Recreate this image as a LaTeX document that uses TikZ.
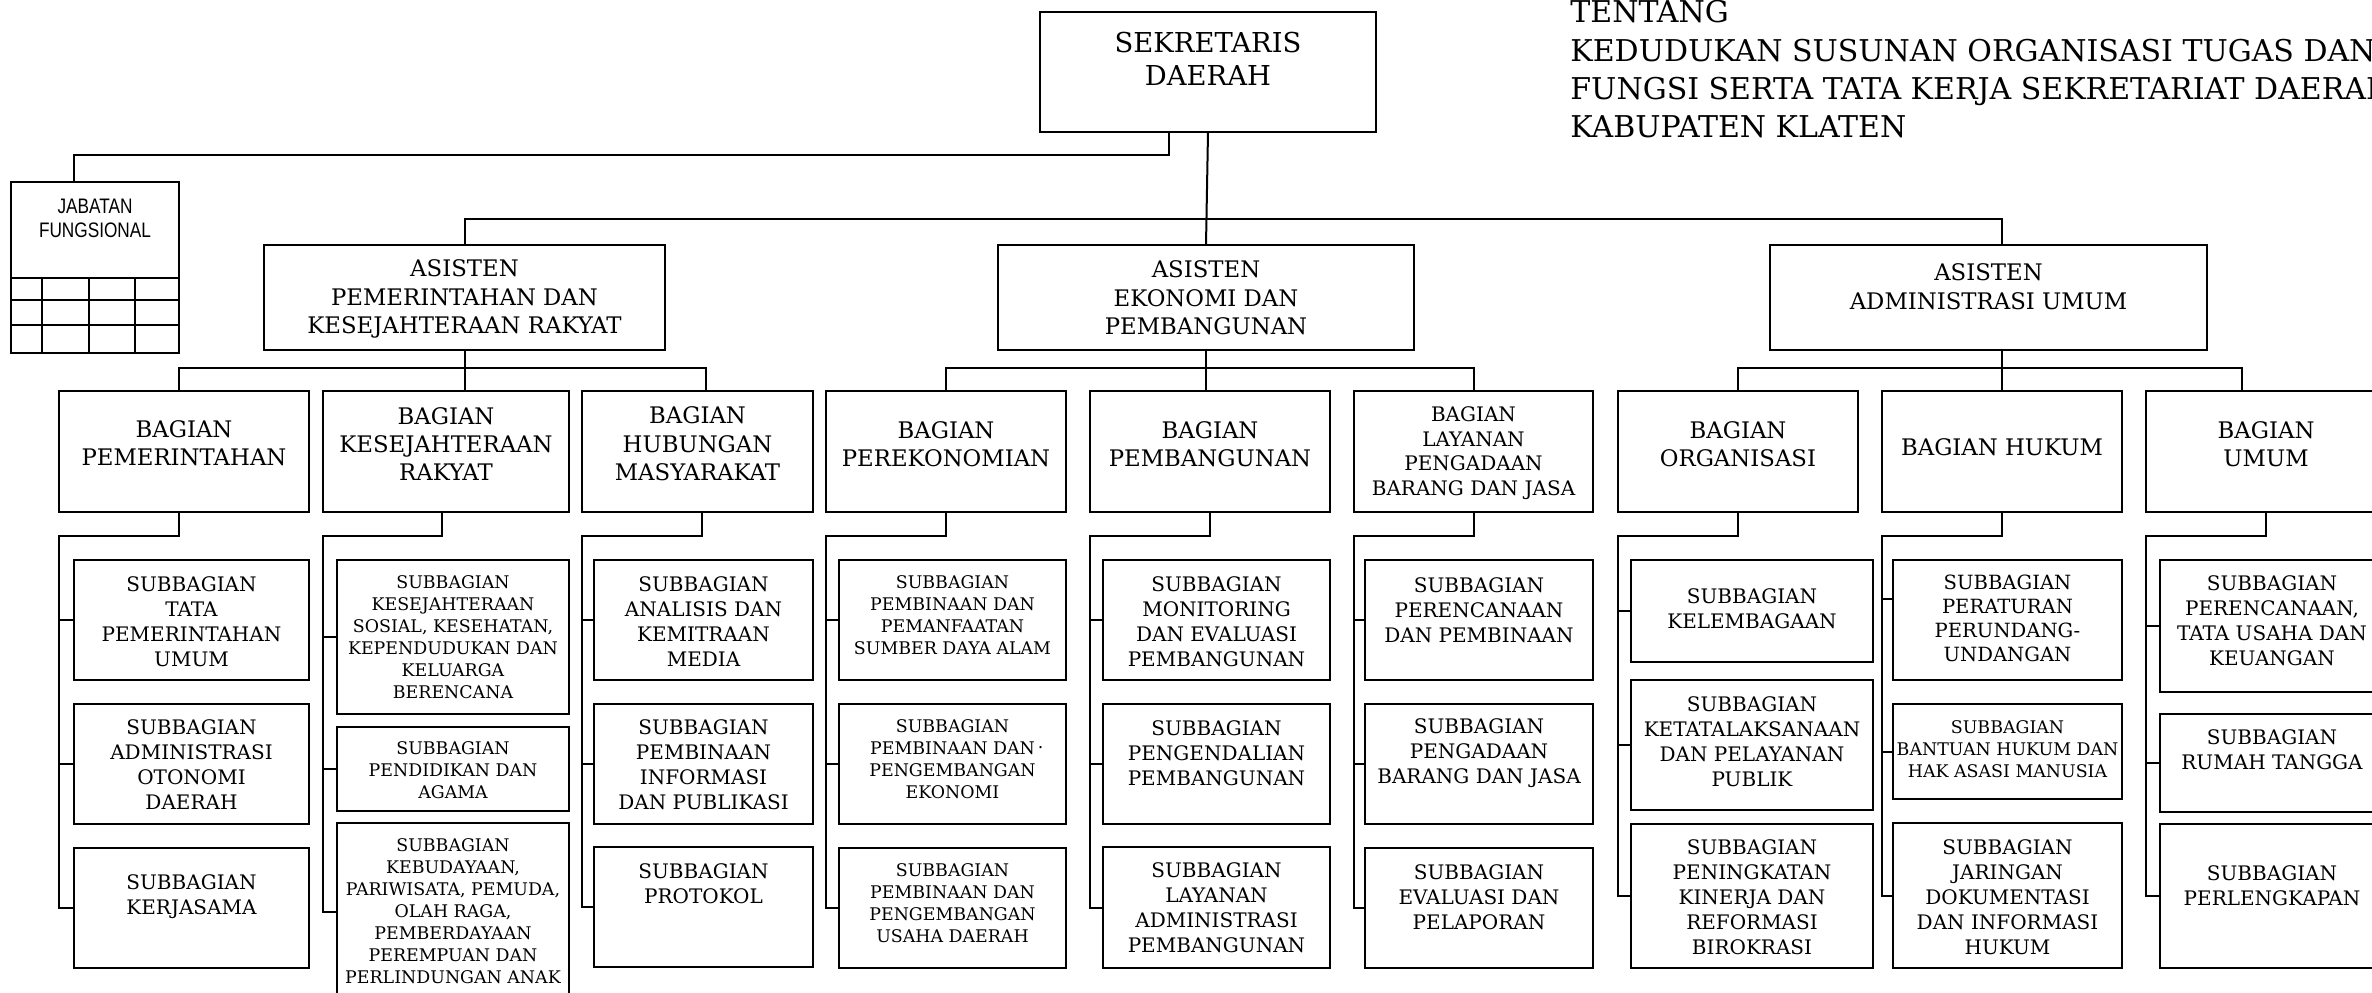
\documentclass[tikz,border=0pt]{standalone}
\usepackage{fontspec}
\setmainfont{DejaVu Serif}
\newfontfamily\jabfont[FakeStretch=0.82]{Liberation Sans}
\tikzset{
 bxthin/.style={draw, line width=1pt, inner sep=0pt, outer sep=0pt},
 bxthick/.style={draw, line width=1.4pt, inner sep=0pt, outer sep=0pt},
 conn/.style={line width=1pt},
 ftitle/.style={font=\fontsize{15}{19.2}\selectfont, align=left, inner sep=0pt},
 fsek/.style={font=\fontsize{13.7}{16.5}\selectfont, align=center, inner sep=0pt},
 fbag/.style={font=\fontsize{11.4}{14.2}\selectfont, align=center, inner sep=0pt},
 fsub/.style={font=\fontsize{10}{12.5}\selectfont, align=center, inner sep=0pt},
 fsubb/.style={font=\fontsize{9.8}{12}\selectfont, align=center, inner sep=0pt},
 fsmall/.style={font=\fontsize{8.7}{11}\selectfont, align=center, inner sep=0pt},
 flay/.style={font=\fontsize{10}{12.3}\selectfont, align=center, inner sep=0pt},
 fjab/.style={font=\jabfont\fontsize{10.5}{12}\selectfont, align=center, inner sep=0pt},
}
\newcommand\orgbox[9]{%
 \node[#6, minimum width={(#4-#2)*0.5pt}, minimum height={(#5-#3)*0.5pt}] (#1) at ({(#2+#4)/2},{(#3+#5)/2}) {};
 \node[#7] (#1t) at ({(#2+#4)/2},#8) {#9};
}
\begin{document}
\begin{tikzpicture}[x=0.5pt, y=-0.5pt]
\useasboundingbox (0,0) rectangle (2372,992);
\clip (0,0) rectangle (2372,992);

% title
\node[ftitle, anchor=north west] (title) at (1570,0) {TENTANG\\KEDUDUKAN SUSUNAN ORGANISASI TUGAS DAN\\FUNGSI SERTA TATA KERJA SEKRETARIAT DAERAH\\KABUPATEN KLATEN};

% top levels
\orgbox{sekda}{1040}{12}{1376}{132}{bxthin}{fsek}{58.5}{SEKRETARIS\\DAERAH}
\node[bxthin, minimum width={168*0.5pt}, minimum height={171*0.5pt}] (jab) at (95,267.5) {};
\node[fjab] (jabt) at (95,218) {JABATAN\\FUNGSIONAL};
\draw[line width=1pt] (11,278) -- (179,278) (11,300) -- (179,300) (11,325) -- (179,325)
  (42,278) -- (42,353) (89,278) -- (89,353) (135,278) -- (135,353);

\orgbox{aspem}{264}{245}{665}{350}{bxthin}{fbag}{299}{ASISTEN\\PEMERINTAHAN DAN\\KESEJAHTERAAN RAKYAT}
\orgbox{aseko}{998}{245}{1414}{350}{bxthin}{fbag}{298}{ASISTEN\\EKONOMI DAN\\PEMBANGUNAN}
\orgbox{asadm}{1770}{245}{2207}{350}{bxthin}{fbag}{286.5}{ASISTEN\\ADMINISTRASI UMUM}

% bagian
\orgbox{bpem}{59}{391}{309}{512}{bxthick}{fbag}{443}{BAGIAN\\PEMERINTAHAN}
\orgbox{bkes}{323}{391}{569}{512}{bxthick}{fbag}{444}{BAGIAN\\KESEJAHTERAAN\\RAKYAT}
\orgbox{bhum}{582}{391}{813}{512}{bxthick}{fbag}{444}{BAGIAN\\HUBUNGAN\\MASYARAKAT}
\orgbox{bper}{826}{391}{1066}{512}{bxthick}{fbag}{444}{BAGIAN\\PEREKONOMIAN}
\orgbox{bpbg}{1090}{391}{1330}{512}{bxthick}{fbag}{444}{BAGIAN\\PEMBANGUNAN}
\orgbox{blay}{1354}{391}{1593}{512}{bxthick}{flay}{453}{BAGIAN\\LAYANAN\\PENGADAAN\\BARANG DAN JASA}
\orgbox{borg}{1618}{391}{1858}{512}{bxthick}{fbag}{444}{BAGIAN\\ORGANISASI}
\orgbox{bhuk}{1882}{391}{2122}{512}{bxthick}{fbag}{447}{BAGIAN HUKUM}
\orgbox{bumum}{2146}{391}{2386}{512}{bxthick}{fbag}{444}{BAGIAN\\UMUM}

% subbagian
\orgbox{s11}{74}{560}{309}{680}{bxthick}{fsub}{622}{SUBBAGIAN\\TATA\\PEMERINTAHAN\\UMUM}
\orgbox{s12}{74}{704}{309}{824}{bxthick}{fsub}{765}{SUBBAGIAN\\ADMINISTRASI\\OTONOMI\\DAERAH}
\orgbox{s13}{74}{848}{309}{968}{bxthick}{fsub}{897}{SUBBAGIAN\\KERJASAMA}

\orgbox{s21}{337}{560}{569}{714}{bxthick}{fsmall}{637}{SUBBAGIAN\\KESEJAHTERAAN\\SOSIAL, KESEHATAN,\\KEPENDUDUKAN DAN\\KELUARGA\\BERENCANA}
\orgbox{s22}{337}{727}{569}{811}{bxthick}{fsmall}{770}{SUBBAGIAN\\PENDIDIKAN DAN\\AGAMA}
\orgbox{s23}{337}{823}{569}{1000}{bxthick}{fsmall}{911}{SUBBAGIAN\\KEBUDAYAAN,\\PARIWISATA, PEMUDA,\\OLAH RAGA,\\PEMBERDAYAAN\\PEREMPUAN DAN\\PERLINDUNGAN ANAK}

\orgbox{s31}{594}{560}{813}{680}{bxthick}{fsub}{622}{SUBBAGIAN\\ANALISIS DAN\\KEMITRAAN\\MEDIA}
\orgbox{s32}{594}{704}{813}{824}{bxthick}{fsub}{765}{SUBBAGIAN\\PEMBINAAN\\INFORMASI\\DAN PUBLIKASI}
\orgbox{s33}{594}{847}{813}{967}{bxthick}{fsub}{884}{SUBBAGIAN\\PROTOKOL}

\orgbox{s41}{839}{560}{1066}{680}{bxthick}{fsmall}{615}{SUBBAGIAN\\PEMBINAAN DAN\\PEMANFAATAN\\SUMBER DAYA ALAM}
\orgbox{s42}{839}{704}{1066}{824}{bxthick}{fsmall}{759}{SUBBAGIAN\\PEMBINAAN DAN\rlap{\,\raisebox{0.6ex}{.}}\\PENGEMBANGAN\\EKONOMI}
\orgbox{s43}{839}{848}{1066}{968}{bxthick}{fsmall}{903}{SUBBAGIAN\\PEMBINAAN DAN\\PENGEMBANGAN\\USAHA DAERAH}

\orgbox{s51}{1103}{560}{1330}{680}{bxthick}{fsub}{622}{SUBBAGIAN\\MONITORING\\DAN EVALUASI\\PEMBANGUNAN}
\orgbox{s52}{1103}{704}{1330}{824}{bxthick}{fsub}{753}{SUBBAGIAN\\PENGENDALIAN\\PEMBANGUNAN}
\orgbox{s53}{1103}{847}{1330}{968}{bxthick}{fsub}{908}{SUBBAGIAN\\LAYANAN\\ADMINISTRASI\\PEMBANGUNAN}

\orgbox{s61}{1365}{560}{1593}{680}{bxthick}{fsub}{610}{SUBBAGIAN\\PERENCANAAN\\DAN PEMBINAAN}
\orgbox{s62}{1365}{704}{1593}{824}{bxthick}{fsub}{753}{SUBBAGIAN\\PENGADAAN\\BARANG DAN JASA}
\orgbox{s63}{1365}{848}{1593}{968}{bxthick}{fsub}{897}{SUBBAGIAN\\EVALUASI DAN\\PELAPORAN}

\orgbox{s71}{1631}{560}{1873}{662}{bxthick}{fsub}{609}{SUBBAGIAN\\KELEMBAGAAN}
\orgbox{s72}{1631}{680}{1873}{810}{bxthick}{fsub}{742}{SUBBAGIAN\\KETATALAKSANAAN\\DAN PELAYANAN\\PUBLIK}
\orgbox{s73}{1631}{824}{1873}{968}{bxthick}{fsub}{897}{SUBBAGIAN\\PENINGKATAN\\KINERJA DAN\\REFORMASI\\BIROKRASI}

\orgbox{s81}{1893}{560}{2122}{680}{bxthick}{fsubb}{618}{SUBBAGIAN\\PERATURAN\\PERUNDANG-\\UNDANGAN}
\orgbox{s82}{1893}{704}{2122}{799}{bxthick}{fsmall}{749}{SUBBAGIAN\\BANTUAN HUKUM DAN\\HAK ASASI MANUSIA}
\orgbox{s83}{1893}{823}{2122}{968}{bxthick}{fsub}{897}{SUBBAGIAN\\JARINGAN\\DOKUMENTASI\\DAN INFORMASI\\HUKUM}

\orgbox{s91}{2160}{560}{2384}{692}{bxthick}{fsub}{621}{SUBBAGIAN\\PERENCANAAN,\\TATA USAHA DAN\\KEUANGAN}
\orgbox{s92}{2160}{714}{2384}{812}{bxthick}{fsub}{750}{SUBBAGIAN\\RUMAH TANGGA}
\orgbox{s93}{2160}{824}{2384}{968}{bxthick}{fsub}{886}{SUBBAGIAN\\PERLENGKAPAN}

% connectors top
\coordinate (jtop) at (74,182);
\draw[conn] ([xshift=-19.5pt]sekda.south) -- ++(0,23) -| (jtop);
\draw[conn] (sekda.south) -- (aseko.north);
\draw[conn] (aspem.north) -- ++(0,-26) -| ([xshift=6.75pt]asadm.north);

\draw[conn] (aspem.south) -- (aspem.south |- bkes.north);
\draw[conn] ([xshift=-2.5pt]bpem.north) -- ++(0,-23) -| ([xshift=4.25pt]bhum.north);
\draw[conn] (aseko.south) -- (aseko.south |- bpbg.north);
\draw[conn] (bper.north) -- ++(0,-23) -| (blay.north);
\draw[conn] (bhuk.north) -- (bhuk.north |- asadm.south);
\draw[conn] (borg.north) -- ++(0,-23) -| ([xshift=-12pt]bumum.north);

\coordinate (s81p) at ([yshift=10.5pt]s81.west);
\foreach \b/\s/\t/\u/\d in {bpem/s11/s12/s13/-2.5pt, bkes/s21/s22/s23/-2pt, bhum/s31/s32/s33/2.25pt,
  bper/s41/s42/s43/0pt, bpbg/s51/s52/s53/0pt, blay/s61/s62/s63/0pt, borg/s71/s72/s73/0pt,
  bhuk/s81p/s82/s83/0pt, bumum/s91/s92/s93/0pt} {
  \draw[conn] ([xshift=\d]\b.south) -- ++(0,24) -| (\b.west |- \u.west) -- (\u.west);
  \draw[conn] (\b.west |- \s.west) -- (\s.west);
  \draw[conn] (\b.west |- \t.west) -- (\t.west);
}
\end{tikzpicture}
\end{document}
